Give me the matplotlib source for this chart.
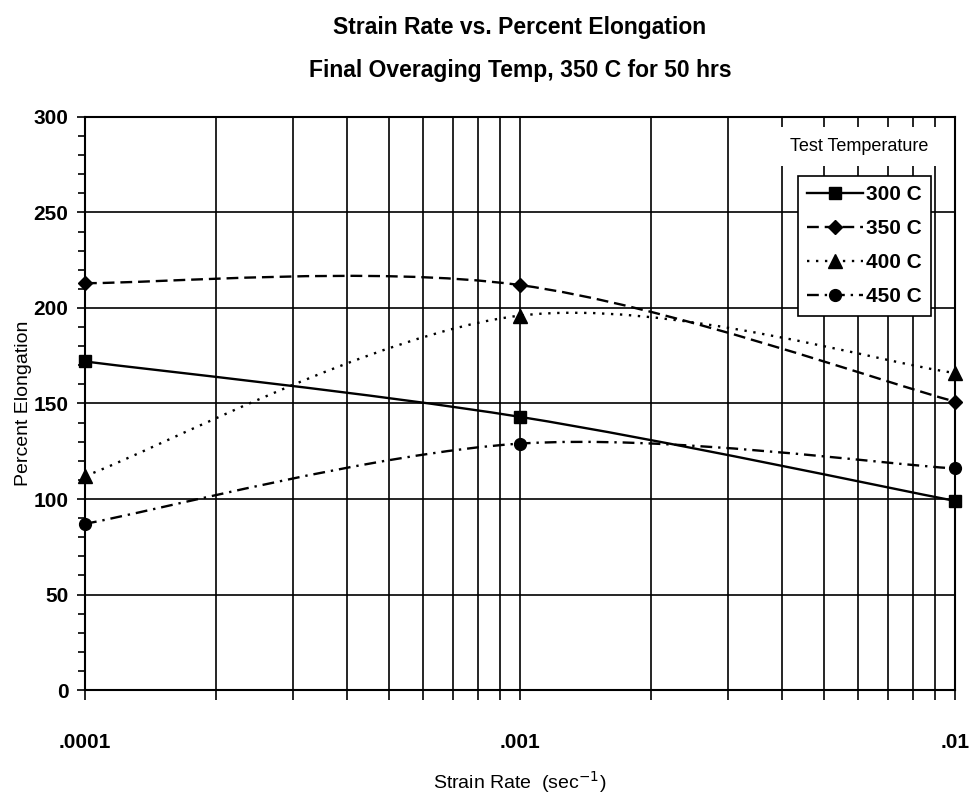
import numpy as np
import matplotlib
matplotlib.use('Agg')
import matplotlib.pyplot as plt
from matplotlib.path import Path
from matplotlib.patches import PathPatch
from matplotlib.lines import Line2D
from matplotlib.ticker import LogLocator, MultipleLocator, FixedLocator, NullFormatter

# data
strain_rate = [0.0001, 0.001, 0.01]
tick_labels = ['.0001', '.001', '.01']
temps = ['300 C', '350 C', '400 C', '450 C']
elong_300 = [172, 143, 99]
elong_350 = [213, 212, 151]
elong_400 = [112, 196, 166]
elong_450 = [87, 129, 116]

plt.rcParams['font.family'] = ['Liberation Sans', 'DejaVu Sans']


def smooth_path(xs, ys):
    # excel-like smoothed line: cubic bezier through the points, in log-x space
    pts = np.column_stack([np.log10(xs), np.asarray(ys, float)])
    n = len(pts)
    verts = [pts[0]]
    codes = [Path.MOVETO]
    for i in range(n - 1):
        p0 = pts[max(i - 1, 0)]
        p1 = pts[i]
        p2 = pts[i + 1]
        p3 = pts[min(i + 2, n - 1)]
        verts += [p1 + (p2 - p0) / 6, p2 - (p3 - p1) / 6, p2]
        codes += [Path.CURVE4] * 3
    verts = np.array(verts)
    verts[:, 0] = 10 ** verts[:, 0]
    return Path(verts, codes)


series = [
    (elong_300, '-', 's', 8.5),
    (elong_350, (0, (5, 2.5)), 'D', 7.5),
    (elong_400, (0, (1, 2.8)), '^', 9.5),
    (elong_450, (0, (5, 2.5, 1, 2.5)), 'o', 8.5),
]

fig = plt.figure(figsize=(9.7, 7.99), dpi=100)
ax = fig.add_axes([0.0876, 0.1364, 0.8969, 0.7172])

handles = []
for (vals, ls, mk, ms), name in zip(series, temps):
    patch = PathPatch(smooth_path(strain_rate, vals), fill=False, edgecolor='black',
                      lw=1.7, linestyle=ls, zorder=3, clip_on=False)
    ax.add_patch(patch)
    ax.plot(strain_rate, vals, linestyle='none', marker=mk, ms=ms, color='black',
            zorder=4, clip_on=False)
    handles.append(Line2D([], [], color='black', lw=1.7, linestyle=ls, marker=mk, ms=ms))

ax.set_xscale('log')
ax.set_xlim(strain_rate[0], strain_rate[-1])
ax.set_ylim(0, 300)
ax.xaxis.set_major_locator(FixedLocator(strain_rate))
ax.set_xticklabels(tick_labels, fontsize=15, fontweight='bold')
ax.xaxis.set_minor_locator(LogLocator(base=10, subs=np.arange(2, 10)))
ax.xaxis.set_minor_formatter(NullFormatter())
ax.yaxis.set_major_locator(MultipleLocator(50))
ax.yaxis.set_minor_locator(MultipleLocator(10))
for lab in ax.get_yticklabels():
    lab.set_fontsize(15)
    lab.set_fontweight('bold')

ax.grid(which='both', axis='x', color='black', lw=1.2)
ax.grid(which='major', axis='y', color='black', lw=1.2)
ax.set_axisbelow(True)
for s in ax.spines.values():
    s.set_linewidth(1.5)
ax.tick_params(axis='both', which='both', direction='out', width=1.2)
ax.tick_params(axis='x', which='both', length=7, pad=24)
ax.tick_params(axis='y', which='major', length=6, pad=6)
ax.tick_params(axis='y', which='minor', length=5)

ax.set_xlabel('Strain Rate  (sec$^{-1}$)', fontsize=14, labelpad=12)
ax.set_ylabel('Percent Elongation', fontsize=14, labelpad=1)

fig.text(0.536, 0.966, 'Strain Rate vs. Percent Elongation',
         fontsize=16.5, fontweight='bold', ha='center', va='center')
fig.text(0.536, 0.912, 'Final Overaging Temp, 350 C for 50 hrs',
         fontsize=16.5, fontweight='bold', ha='center', va='center')

ax.text(0.89, 0.948, 'Test Temperature', transform=ax.transAxes,
        fontsize=13, ha='center', va='center',
        bbox=dict(facecolor='white', edgecolor='none', pad=8))

leg = ax.legend(handles, temps, loc='upper right', bbox_to_anchor=(0.973, 0.897),
                frameon=True, fancybox=False, edgecolor='black', framealpha=1,
                handlelength=2.7, handletextpad=0.15, labelspacing=0.72,
                borderpad=0.45, borderaxespad=0,
                prop=dict(size=15, weight='bold'))
leg.get_frame().set_linewidth(1.2)
leg.set_zorder(6)

fig.savefig('out.png', dpi=100)
